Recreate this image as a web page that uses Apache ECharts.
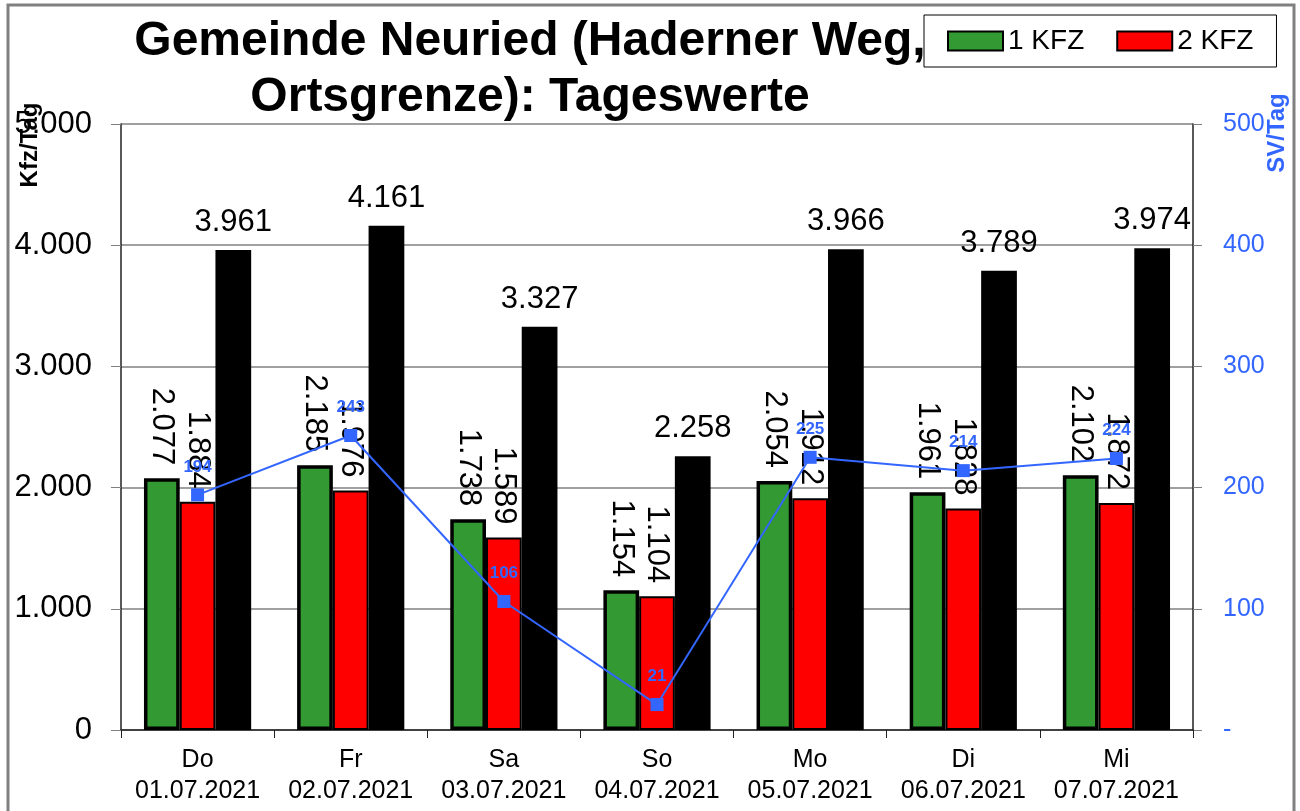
<!DOCTYPE html>
<html>
<head>
<meta charset="utf-8">
<script src="https://cdn.jsdelivr.net/npm/echarts@6/dist/echarts.min.js"></script>
<style>
html, body { margin: 0; padding: 0; background: #fff; }
#chart { width: 1300px; height: 811px; }
</style>
</head>
<body>
<div id="chart"></div>
<script>
// values
var days = ['Do', 'Fr', 'Sa', 'So', 'Mo', 'Di', 'Mi'];
var dates = ['01.07.2021', '02.07.2021', '03.07.2021', '04.07.2021', '05.07.2021', '06.07.2021', '07.07.2021'];
var kfz1 = [2077, 2185, 1738, 1154, 2054, 1961, 2102];
var kfz2 = [1884, 1976, 1589, 1104, 1912, 1828, 1872];
var kfzTotal = [3961, 4161, 3327, 2258, 3966, 3789, 3974];
var svTag = [194, 243, 106, 21, 225, 214, 224];

var leftMax = 5000, leftStep = 1000;
var rightMax = 500, rightStep = 100;

var FONT = "Arial, 'Liberation Sans', sans-serif";
var BLUE = '#3366ff';

var categories = days.map(function (d, i) { return d + '\n' + dates[i]; });

// 2077 -> "2.077"
function thousands(v) {
  return String(Math.round(v)).replace(/\B(?=(\d{3})+(?!\d))/g, '.');
}

var rotatedLabel = {
  show: true,
  position: 'top',
  rotate: -90,
  align: 'right',
  verticalAlign: 'middle',
  distance: 13,
  fontFamily: FONT,
  fontSize: 31,
  color: '#000',
  formatter: function (p) { return thousands(p.value); }
};

var chart = echarts.init(document.getElementById('chart'));
chart.setOption({
  animation: false,
  backgroundColor: '#fff',
  textStyle: { fontFamily: FONT },
  grid: { left: 121, right: 107, top: 124, bottom: 81, containLabel: false },
  legend: {
    data: [{ name: '1 KFZ', icon: 'rect' }, { name: '2 KFZ', icon: 'rect' }],
    left: 924,
    top: 15,
    orient: 'horizontal',
    padding: [12, 23, 12, 23],
    itemWidth: 55,
    itemHeight: 19,
    itemGap: 32,
    backgroundColor: '#fff',
    borderColor: '#000',
    borderWidth: 1,
    z: 10,
    textStyle: { fontFamily: FONT, fontSize: 28, color: '#000' }
  },
  graphic: [
    {
      type: 'rect', silent: true, z: 0,
      shape: { x: 8, y: 5, width: 1286, height: 840 },
      style: { fill: null, stroke: '#808080', lineWidth: 3 }
    },
    {
      type: 'text', silent: true, z: 1,
      x: 530, y: 14,
      style: {
        text: 'Gemeinde Neuried (Haderner Weg,\nOrtsgrenze): Tageswerte',
        font: 'bold 48px ' + FONT,
        lineHeight: 56,
        textAlign: 'center',
        textVerticalAlign: 'top',
        fill: '#000'
      }
    },
    {
      type: 'text', silent: true, z: 1,
      x: 30, y: 145, rotation: Math.PI / 2,
      style: {
        text: 'Kfz/Tag', font: 'bold 24px ' + FONT,
        textAlign: 'center', textVerticalAlign: 'middle', fill: '#000'
      }
    },
    {
      type: 'text', silent: true, z: 1,
      x: 1277, y: 133, rotation: Math.PI / 2,
      style: {
        text: 'SV/Tag', font: 'bold 24px ' + FONT,
        textAlign: 'center', textVerticalAlign: 'middle', fill: BLUE
      }
    }
  ],
  xAxis: {
    type: 'category',
    data: categories,
    boundaryGap: true,
    axisLine: { lineStyle: { color: '#222', width: 1.5 } },
    axisTick: { show: true, length: 8, lineStyle: { color: '#222' } },
    axisLabel: {
      fontFamily: FONT, fontSize: 25, color: '#000',
      lineHeight: 31, margin: 15, interval: 0
    },
    splitLine: { show: false }
  },
  yAxis: [
    {
      type: 'value',
      min: 0, max: leftMax, interval: leftStep,
      axisLine: { show: true, lineStyle: { color: '#222', width: 1.5 } },
      axisTick: { show: true, length: 10, lineStyle: { color: '#808080' } },
      axisLabel: {
        fontFamily: FONT, fontSize: 31, color: '#000', margin: 29,
        formatter: function (v) { return thousands(v); }
      },
      splitLine: { show: true, lineStyle: { color: '#808080', width: 1.5 } }
    },
    {
      type: 'value',
      min: 0, max: rightMax, interval: rightStep,
      position: 'right',
      axisLine: { show: true, lineStyle: { color: '#222', width: 1.5 } },
      axisTick: { show: true, length: 9, lineStyle: { color: '#808080' } },
      axisLabel: {
        fontFamily: FONT, fontSize: 25, color: BLUE, margin: 30,
        formatter: function (v) { return v === 0 ? '-' : String(v); }
      },
      splitLine: { show: false }
    }
  ],
  series: [
    {
      name: '1 KFZ',
      type: 'bar',
      data: kfz1,
      barGap: '0%',
      barCategoryGap: '30%',
      itemStyle: { color: '#339933', borderColor: '#000', borderWidth: 3.5 },
      label: rotatedLabel
    },
    {
      name: '2 KFZ',
      type: 'bar',
      data: kfz2,
      itemStyle: { color: '#ff0000', borderColor: '#000', borderWidth: 2 },
      label: rotatedLabel
    },
    {
      name: 'Summe',
      type: 'bar',
      data: kfzTotal,
      itemStyle: { color: '#000' },
      label: {
        show: true, position: 'top', distance: 12,
        fontFamily: FONT, fontSize: 31, color: '#000',
        formatter: function (p) { return thousands(p.value); }
      }
    },
    {
      name: 'SV',
      type: 'line',
      yAxisIndex: 1,
      data: svTag,
      z: 5,
      symbol: 'rect',
      symbolSize: 13,
      lineStyle: { color: BLUE, width: 2 },
      itemStyle: { color: BLUE },
      label: {
        show: true, position: 'top', distance: 13,
        fontFamily: FONT, fontSize: 17, fontWeight: 'bold', color: BLUE
      }
    }
  ]
});
</script>
</body>
</html>
